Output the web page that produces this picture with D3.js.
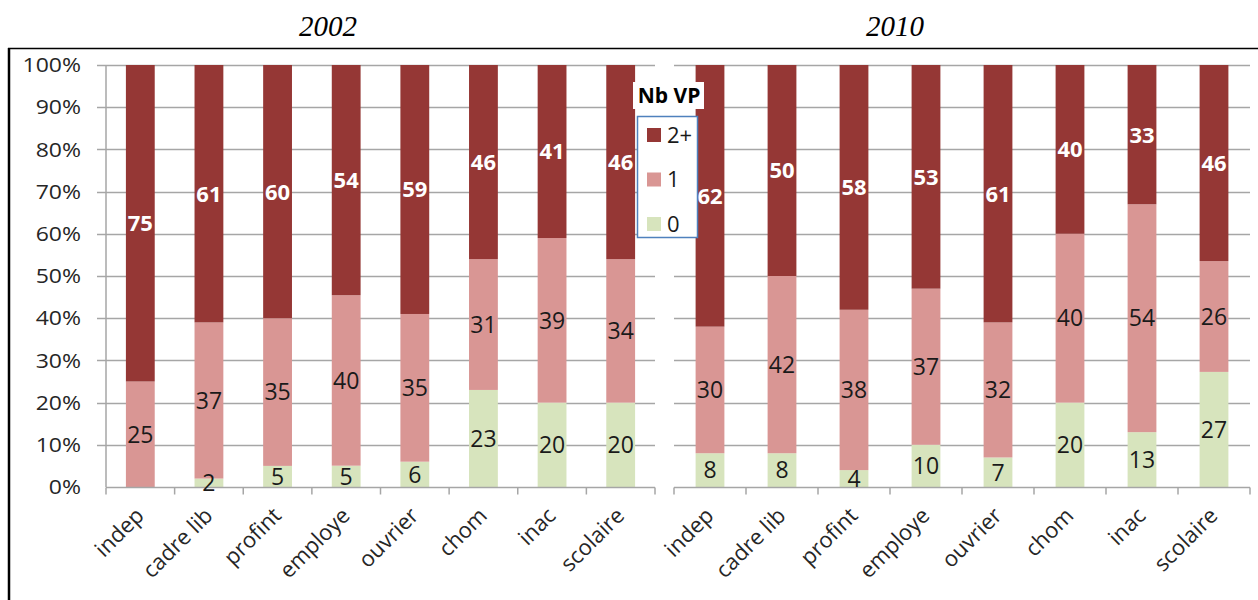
<!DOCTYPE html>
<html>
<head>
<meta charset="utf-8">
<script src="https://cdn.jsdelivr.net/npm/d3@7"></script>
<style>
  body { margin: 0; background: #fff; }
  svg { display: block; }
</style>
</head>
<body>
<svg id="chart" width="1258" height="600"></svg>
<script>
// categories (same for both years)
var categories = ["indep", "cadre lib", "profint", "employe", "ouvrier", "chom", "inac", "scolaire"];
var seriesKeys = ["0", "1", "2+"];
var legendKeys = ["2+", "1", "0"];
var yTicks = [0, 0.1, 0.2, 0.3, 0.4, 0.5, 0.6, 0.7, 0.8, 0.9, 1];

// values (share of people by number of cars), per year
var vp0_2002 = [0, 2, 5, 5, 6, 23, 20, 20];
var vp1_2002 = [25, 37, 35, 40, 35, 31, 39, 34];
var vp2_2002 = [75, 61, 60, 54, 59, 46, 41, 46];

var vp0_2010 = [8, 8, 4, 10, 7, 20, 13, 27];
var vp1_2010 = [30, 42, 38, 37, 32, 40, 54, 26];
var vp2_2010 = [62, 50, 58, 53, 61, 40, 33, 46];

var colors = { "0": "#d7e4bd", "1": "#d99694", "2+": "#953735" };
var FONT = "'Open Sans', 'DejaVu Sans', sans-serif";

var svg = d3.select("#chart");

// outer frame (top and left)
svg.append("line").attr("x1", 8).attr("x2", 1258).attr("y1", 48.5).attr("y2", 48.5)
    .attr("stroke", "#000").attr("stroke-width", 1.5);
svg.append("line").attr("x1", 9).attr("x2", 9).attr("y1", 48).attr("y2", 600)
    .attr("stroke", "#000").attr("stroke-width", 2.5);

function buildRows(v0, v1, v2) {
    return categories.map(function(c, i) {
        return { cat: c, "0": v0[i], "1": v1[i], "2+": v2[i] };
    });
}

function drawPanel(opts) {
    var g = svg.append("g");
    var rows = buildRows(opts.v0, opts.v1, opts.v2);

    // normalise to 100%
    var norm = rows.map(function(r) {
        var tot = r["0"] + r["1"] + r["2+"];
        return { cat: r.cat, "0": r["0"] / tot, "1": r["1"] / tot, "2+": r["2+"] / tot, raw: r };
    });
    var stacked = d3.stack().keys(seriesKeys)(norm);

    var x = d3.scaleBand().domain(categories).range([opts.x0, opts.x1])
        .paddingInner(opts.pad).paddingOuter(opts.pad / 2);
    var y = d3.scaleLinear().domain([0, 1]).range([487, 65]);

    // gridlines
    g.selectAll(".grid").data(yTicks.slice(1)).enter().append("line")
        .attr("x1", opts.x0 - (opts.yLabels ? 9 : 0)).attr("x2", opts.x1)
        .attr("y1", function(d) { return Math.round(y(d)) + 0.5; })
        .attr("y2", function(d) { return Math.round(y(d)) + 0.5; })
        .attr("stroke", "#a6a6a6").attr("stroke-width", 1.5);

    // y axis
    if (opts.yLabels) {
        g.append("line").attr("x1", opts.x0).attr("x2", opts.x0).attr("y1", y(1)).attr("y2", y(0))
            .attr("stroke", "#a6a6a6").attr("stroke-width", 1.5);
        g.selectAll(".ylab").data(yTicks).enter().append("text")
            .attr("transform", function(d) { return "translate(81," + y(d) + ") scale(1.15,1)"; })
            .attr("dy", "0.36em")
            .attr("text-anchor", "end")
            .attr("font-family", FONT).attr("font-size", 20)
            .attr("fill", "#262626")
            .text(function(d) { return d3.format(".0%")(d); });
    }

    // bars
    var layers = g.selectAll(".layer").data(stacked).enter().append("g")
        .attr("fill", function(d) { return colors[d.key]; });
    layers.selectAll("rect").data(function(d) { return d; }).enter().append("rect")
        .attr("x", function(d) { return x(d.data.cat); })
        .attr("width", x.bandwidth())
        .attr("y", function(d) { return y(d[1]); })
        .attr("height", function(d) { return y(d[0]) - y(d[1]); });

    // x axis
    var axisY = Math.round(y(0)) + 0.5;
    g.append("line").attr("x1", opts.x0).attr("x2", opts.x1).attr("y1", axisY).attr("y2", axisY)
        .attr("stroke", "#a6a6a6").attr("stroke-width", 1.5);
    var step = x.step();
    g.selectAll(".xtick").data(d3.range(categories.length + 1)).enter().append("line")
        .attr("x1", function(i) { return opts.x0 + i * step; })
        .attr("x2", function(i) { return opts.x0 + i * step; })
        .attr("y1", axisY).attr("y2", axisY + 7)
        .attr("stroke", "#a6a6a6").attr("stroke-width", 1.5);

    g.selectAll(".xlab").data(categories).enter().append("text")
        .attr("transform", function(d) {
            return "translate(" + (x(d) + x.bandwidth() / 2 + 5) + "," + 517 + ") rotate(-45)";
        })
        .attr("text-anchor", "end")
        .attr("font-family", FONT).attr("font-size", 22)
        .attr("fill", "#262626")
        .text(function(d) { return d; });

    // data labels
    stacked.forEach(function(layer) {
        g.selectAll(".lab" + layer.index).data(layer.filter(function(d) { return d.data.raw[layer.key] > 0; }))
            .enter().append("text")
            .attr("x", function(d) { return x(d.data.cat) + x.bandwidth() / 2; })
            .attr("y", function(d) { return y((d[0] + d[1]) / 2); })
            .attr("dy", "0.36em")
            .attr("text-anchor", "middle")
            .attr("font-family", FONT)
            .attr("font-size", layer.key === "2+" ? 22 : 23)
            .attr("font-weight", layer.key === "2+" ? "bold" : "normal")
            .attr("fill", layer.key === "2+" ? "#fff" : "#1a1a1a")
            .text(function(d) { return d.data.raw[layer.key]; });
    });

    // title
    svg.append("text")
        .attr("x", opts.titleX).attr("y", 36)
        .attr("text-anchor", "middle")
        .attr("font-family", "'Liberation Serif', 'Times New Roman', serif")
        .attr("font-style", "italic")
        .attr("font-size", 29)
        .attr("fill", "#000")
        .text(opts.title);
}

drawPanel({ v0: vp0_2002, v1: vp1_2002, v2: vp2_2002, x0: 106, x1: 655, pad: 0.58, yLabels: true, title: "2002", titleX: 328 });
drawPanel({ v0: vp0_2010, v1: vp1_2010, v2: vp2_2010, x0: 674, x1: 1250, pad: 0.6, yLabels: false, title: "2010", titleX: 895 });

// legend
var leg = svg.append("g");
leg.append("rect").attr("x", 633).attr("y", 82).attr("width", 71).attr("height", 27).attr("fill", "#fff");
leg.append("text").attr("x", 669).attr("y", 103).attr("text-anchor", "middle")
    .attr("font-family", FONT).attr("font-weight", "bold").attr("font-size", 21)
    .attr("fill", "#000").text("Nb VP");
leg.append("rect").attr("x", 637.5).attr("y", 116.5).attr("width", 60).attr("height", 121)
    .attr("fill", "#fff").attr("stroke", "#4f81bd").attr("stroke-width", 1.5);
var legY = d3.scalePoint().domain(legendKeys).range([135, 224]);
leg.selectAll(".lsq").data(legendKeys).enter().append("rect")
    .attr("x", 647).attr("y", function(d) { return legY(d) - 7; })
    .attr("width", 14).attr("height", 14)
    .attr("fill", function(d) { return colors[d]; });
leg.selectAll(".ltx").data(legendKeys).enter().append("text")
    .attr("x", 667).attr("y", function(d) { return legY(d); })
    .attr("dy", "0.36em")
    .attr("font-family", FONT).attr("font-size", 22)
    .attr("fill", "#1a1a1a")
    .text(function(d) { return d; });
</script>
</body>
</html>
